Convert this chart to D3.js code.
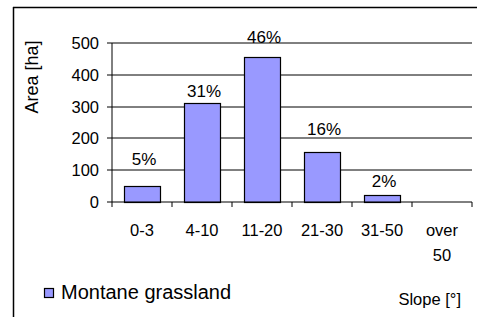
<!DOCTYPE html>
<html><head><meta charset="utf-8">
<script src="https://cdn.jsdelivr.net/npm/d3@7/dist/d3.min.js"></script>
<style>body{margin:0;background:#fff;}svg{display:block;font-family:"Liberation Sans",Arial,sans-serif;}</style>
</head><body>
<script>
const categories = ["0-3", "4-10", "11-20", "21-30", "31-50", "over 50"];
const areaValues = [50, 310, 455, 157, 22, 0];
const percentLabels = ["5%", "31%", "46%", "16%", "2%", ""];
const percentLabelAt = [117, 330, 500, 212, 47, 0];
const yTicks = [0, 100, 200, 300, 400, 500];
const seriesName = "Montane grassland";
const yTitle = "Area [ha]";
const xTitle = "Slope [°]";

const W = 477, H = 317;
const svg = d3.select("body").append("svg").attr("width", W).attr("height", H);

const x = d3.scaleBand().domain(categories).range([112, 472]).paddingInner(0.4).paddingOuter(0.2);
const y = d3.scaleLinear().domain([0, 500]).range([202, 43]);

// frame
svg.append("line").attr("x1", 13).attr("x2", W).attr("y1", 7.5).attr("y2", 7.5).attr("stroke", "#000").attr("stroke-width", 1.5);
svg.append("line").attr("x1", 13.5).attr("x2", 13.5).attr("y1", 7).attr("y2", H).attr("stroke", "#000").attr("stroke-width", 1.5);

// gridlines + y ticks
const gy = svg.append("g");
yTicks.forEach(t => {
  const yy = Math.round(y(t));
  if (t > 0) gy.append("line").attr("x1", 112).attr("x2", 472).attr("y1", yy).attr("y2", yy).attr("stroke", "#000").attr("stroke-width", 1);
  gy.append("line").attr("x1", 107).attr("x2", 112).attr("y1", yy).attr("y2", yy).attr("stroke", "#000").attr("stroke-width", 1);
  gy.append("text").attr("x", 99).attr("y", yy + 6).attr("text-anchor", "end").attr("font-size", 16.5).attr("fill", "#000").text(t);
});
// y axis line
svg.append("line").attr("x1", 112).attr("x2", 112).attr("y1", y(500)).attr("y2", y(0)).attr("stroke", "#000").attr("stroke-width", 1);

// bars
svg.append("g").selectAll("rect").data(categories).join("rect")
  .attr("x", (d) => x(d) + 0.5)
  .attr("y", (d, i) => Math.round(y(areaValues[i])) + 0.5)
  .attr("width", x.bandwidth())
  .attr("height", (d, i) => Math.max(0, Math.round(y(0)) - Math.round(y(areaValues[i]))))
  .attr("fill", "#9999FF").attr("stroke", "#000").attr("stroke-width", 1.2)
  .attr("display", (d, i) => areaValues[i] > 0 ? null : "none");

// x axis
const y0 = Math.round(y(0));
svg.append("line").attr("x1", 112).attr("x2", 472).attr("y1", y0).attr("y2", y0).attr("stroke", "#000").attr("stroke-width", 1);
const step = x.step();
d3.range(categories.length + 1).forEach(i => {
  const xx = Math.round(112 + i * step);
  svg.append("line").attr("x1", xx).attr("x2", xx).attr("y1", y0).attr("y2", y0 + 5).attr("stroke", "#000").attr("stroke-width", 1);
});
svg.append("g").selectAll("text").data(categories).join("text")
  .attr("x", d => x(d) + x.bandwidth() / 2)
  .attr("y", 236)
  .attr("text-anchor", "middle").attr("font-size", 16.5).attr("fill", "#000")
  .each(function(d) {
    const parts = d === "over 50" ? ["over", "50"] : [d];
    d3.select(this).selectAll("tspan").data(parts).join("tspan")
      .attr("x", x(d) + x.bandwidth() / 2)
      .attr("dy", (p, j) => j === 0 ? 0 : 25)
      .text(p => p);
  });

// percent labels
svg.append("g").selectAll("text").data(categories).join("text")
  .attr("x", d => x(d) + x.bandwidth() / 2 + 2)
  .attr("y", (d, i) => y(percentLabelAt[i]))
  .attr("text-anchor", "middle").attr("font-size", 17).attr("fill", "#000")
  .text((d, i) => percentLabels[i]);

// y title
svg.append("text").attr("transform", "translate(38,77) rotate(-90)")
  .attr("text-anchor", "middle").attr("font-size", 18).attr("fill", "#000").text(yTitle);

// legend
svg.append("rect").attr("x", 44.5).attr("y", 288.5).attr("width", 9).attr("height", 9)
  .attr("fill", "#9999FF").attr("stroke", "#000").attr("stroke-width", 1.2);
svg.append("text").attr("x", 61).attr("y", 299).attr("font-size", 20).attr("fill", "#000").text(seriesName);

// x title
svg.append("text").attr("x", 461).attr("y", 305).attr("text-anchor", "end").attr("font-size", 16.5).attr("fill", "#000").text(xTitle);
</script>
</body></html>
